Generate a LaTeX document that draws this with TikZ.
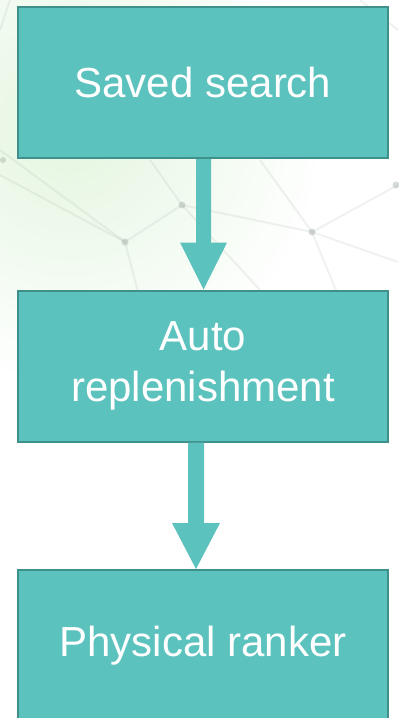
\documentclass[tikz,border=0pt]{standalone}
\usepackage{fontspec}
\setmainfont{Liberation Sans}
\usetikzlibrary{calc}
\definecolor{boxfill}{HTML}{5BC2BE}
\definecolor{boxline}{HTML}{3F8F8A}
\definecolor{bggreen}{HTML}{E4F6E0}
\definecolor{netline}{HTML}{9AA8A0}
\tikzset{
  stepbox/.style={draw=boxline, line width=2bp, fill=boxfill, minimum width=370bp,
    minimum height=151bp, inner sep=0pt, text=white, align=center,
    font=\fontsize{42bp}{51bp}\selectfont},
  arrowfill/.style={fill=boxfill},
  net/.style={draw=netline, line width=2bp, opacity=0.15},
  netdot/.style={fill=netline, opacity=0.4}
}
\begin{document}
\begin{tikzpicture}[x=1bp,y=-1bp]
\useasboundingbox (0,0) rectangle (398,718);
% background
\fill[white] (0,0) rectangle (398,718);
\shade[inner color=bggreen, outer color=white] (70,130) circle (260);
% faint network
\draw[net] (0,150) -- (125,242) -- (182,205) -- (312,232) -- (398,185);
\draw[net] (125,242) -- (140,300);
\draw[net] (182,205) -- (150,160);
\draw[net] (182,205) -- (260,290);
\draw[net] (312,232) -- (260,160);
\draw[net] (312,232) -- (340,300);
\draw[net] (312,232) -- (398,262);
\draw[net] (0,175) -- (125,242);
\draw[net] (10,0) -- (0,30);
\draw[net] (360,0) -- (398,30);
\fill[netdot] (125,242) circle (3.5);
\fill[netdot] (182,205) circle (3.5);
\fill[netdot] (312,232) circle (3.5);
\fill[netdot] (396,185) circle (3.5);
\fill[netdot] (3,160) circle (3);
% boxes
\node[stepbox] (s1) at (203,82.5) {Saved search};
\node[stepbox] (s2) at (203,366) {Auto\\replenishment};
\node[stepbox] (s3) at (203,645.5) {Physical ranker};
% block arrows
\path[arrowfill] let \p1=([xshift=0.5bp]s1.south), \p2=([xshift=0.5bp]s2.north) in
  (\x1-7.5bp,\y1) -- (\x1-7.5bp,\y2+47bp) -- (\x1-23.5bp,\y2+47bp) -- (\x2,\y2)
  -- (\x1+23.5bp,\y2+47bp) -- (\x1+7.5bp,\y2+47bp) -- (\x1+7.5bp,\y1) -- cycle;
\path[arrowfill] let \p1=([xshift=-7bp]s2.south), \p2=([xshift=-7bp]s3.north) in
  (\x1-8bp,\y1) -- (\x1-8bp,\y2+46bp) -- (\x1-24bp,\y2+46bp) -- (\x2,\y2)
  -- (\x1+24bp,\y2+46bp) -- (\x1+8bp,\y2+46bp) -- (\x1+8bp,\y1) -- cycle;
\end{tikzpicture}
\end{document}
